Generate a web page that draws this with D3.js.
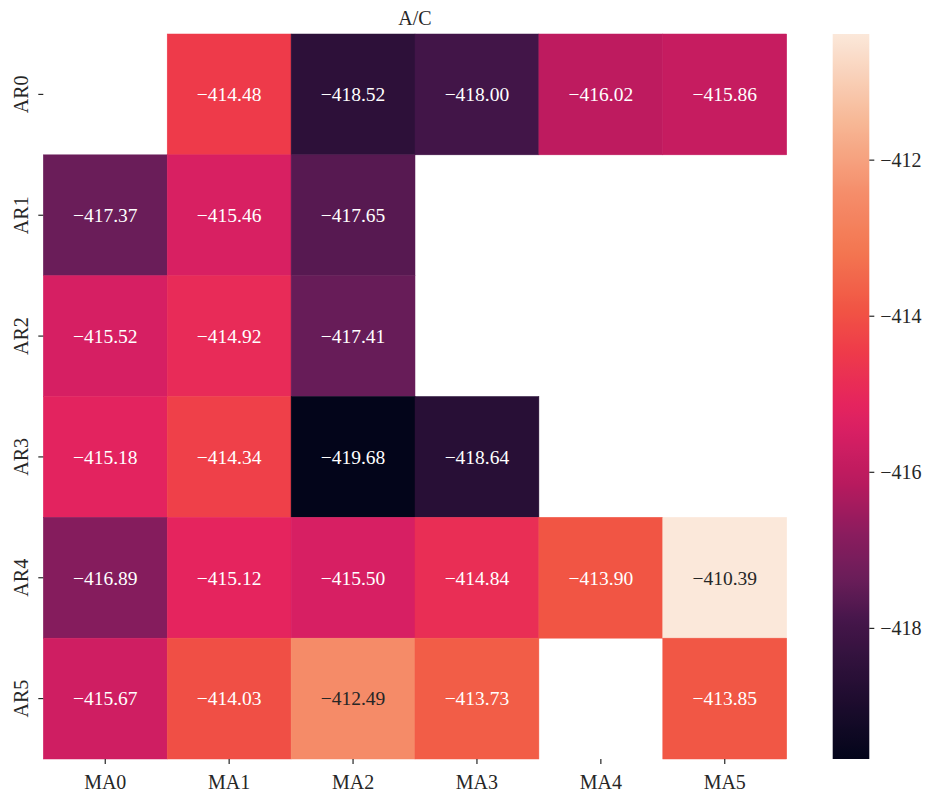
<!DOCTYPE html>
<html>
<head>
<meta charset="utf-8">
<script src="https://cdn.jsdelivr.net/npm/d3@7"></script>
<style>
  html, body { margin: 0; padding: 0; background: #fff; }
  svg text { font-family: "Liberation Serif", "DejaVu Serif", serif; }
</style>
</head>
<body>
<svg id="chart" width="926" height="793"></svg>
<script>
// Row and column labels of the grid
const rowLabels = ["AR0", "AR1", "AR2", "AR3", "AR4", "AR5"];
const colLabels = ["MA0", "MA1", "MA2", "MA3", "MA4", "MA5"];

// A/C score per (AR, MA) order; null = not fitted
const AR0 = [null, -414.48, -418.52, -418.00, -416.02, -415.86];
const AR1 = [-417.37, -415.46, -417.65, null, null, null];
const AR2 = [-415.52, -414.92, -417.41, null, null, null];
const AR3 = [-415.18, -414.34, -419.68, -418.64, null, null];
const AR4 = [-416.89, -415.12, -415.50, -414.84, -413.90, -410.39];
const AR5 = [-415.67, -414.03, -412.49, -413.73, null, -413.85];
const rows = [AR0, AR1, AR2, AR3, AR4, AR5];

const colorbarTicks = [-412, -414, -416, -418];
const title = "A/C";

// "rocket"-style colour ramp: positions and colours
const rampPos = [0, 0.12, 0.19, 0.25, 0.31, 0.38, 0.45, 0.49, 0.56, 0.62, 0.70, 0.78, 0.88, 1];
const rampCol = ["#03051a", "#2b1038", "#45164a", "#6b1d59", "#8a1c5e", "#b81a5e", "#d71f63",
                 "#e5245e", "#ee3a4a", "#f15444", "#f37651", "#f58d6a", "#f7b896", "#fbe8da"];
const rocket = d3.scaleLinear().domain(rampPos).range(rampCol).interpolate(d3.interpolateRgb);

const cells = [];
rows.forEach((r, i) => r.forEach((v, j) => {
  if (v !== null) cells.push({ row: rowLabels[i], col: colLabels[j], value: v });
}));
const vmin = d3.min(cells, d => d.value);
const vmax = d3.max(cells, d => d.value);
const norm = d3.scaleLinear().domain([vmin, vmax]).range([0, 1]);
const color = v => rocket(norm(v));

const svg = d3.select("#chart");
const plotLeft = 43.3, plotRight = 786.7, plotTop = 34, plotBottom = 759;

const x = d3.scaleBand().domain(colLabels).range([plotLeft, plotRight]);
const y = d3.scaleBand().domain(rowLabels).range([plotTop, plotBottom]);

// heatmap cells
svg.append("g").selectAll("rect").data(cells).join("rect")
  .attr("x", d => x(d.col))
  .attr("y", d => y(d.row))
  .attr("width", x.bandwidth())
  .attr("height", y.bandwidth())
  .attr("fill", d => color(d.value))
  .attr("stroke", d => color(d.value))
  .attr("stroke-width", 0.5);

// cell annotations, dark text on light cells
function luminance(c) {
  const rgb = d3.rgb(c);
  const f = v => { v /= 255; return v <= 0.03928 ? v / 12.92 : Math.pow((v + 0.055) / 1.055, 2.4); };
  return 0.2126 * f(rgb.r) + 0.7152 * f(rgb.g) + 0.0722 * f(rgb.b);
}
const fmt = v => d3.format(".2f")(v).replace("-", "\u2212");
svg.append("g").selectAll("text").data(cells).join("text")
  .attr("x", d => x(d.col) + x.bandwidth() / 2)
  .attr("y", d => y(d.row) + y.bandwidth() / 2)
  .attr("dy", "0.35em")
  .attr("text-anchor", "middle")
  .attr("font-size", 19.5)
  .attr("fill", d => luminance(color(d.value)) > 0.3 ? "#262626" : "#ffffff")
  .text(d => fmt(d.value));

// axes
const xAxis = svg.append("g").attr("transform", `translate(0,${plotBottom})`)
  .call(d3.axisBottom(x).tickSize(5).tickPadding(6));
const yAxis = svg.append("g").attr("transform", `translate(${plotLeft},0)`)
  .call(d3.axisLeft(y).tickSize(5).tickPadding(6));
[xAxis, yAxis].forEach(a => {
  a.select(".domain").remove();
  a.selectAll(".tick line").attr("stroke", "#262626").attr("stroke-width", 1.2);
  a.selectAll(".tick text").attr("fill", "#262626").attr("font-size", 20)
    .attr("font-family", "Liberation Serif, DejaVu Serif, serif");
});
xAxis.selectAll(".tick text").attr("dy", "0.95em");
yAxis.selectAll(".tick text")
  .attr("text-anchor", "middle")
  .attr("x", null).attr("dy", null)
  .attr("transform", "translate(-22,0) rotate(-90)")
  .attr("y", 0)
  .attr("dominant-baseline", "central");

// title
svg.append("text")
  .attr("x", (plotLeft + plotRight) / 2)
  .attr("y", 25)
  .attr("text-anchor", "middle")
  .attr("font-size", 20)
  .attr("fill", "#262626")
  .text(title);

// colour bar
const cbX = 832.7, cbW = 36.6;
const cbScale = d3.scaleLinear().domain([vmin, vmax]).range([plotBottom, plotTop]);
const defs = svg.append("defs");
const grad = defs.append("linearGradient").attr("id", "cbgrad")
  .attr("x1", 0).attr("y1", 1).attr("x2", 0).attr("y2", 0);
d3.range(0, 1.0001, 0.01).forEach(t => {
  grad.append("stop").attr("offset", t).attr("stop-color", rocket(t));
});
svg.append("rect")
  .attr("x", cbX).attr("y", plotTop)
  .attr("width", cbW).attr("height", plotBottom - plotTop)
  .attr("fill", "url(#cbgrad)");

const cbAxis = svg.append("g").attr("transform", `translate(${cbX + cbW},0)`)
  .call(d3.axisRight(cbScale).tickValues(colorbarTicks).tickSize(5).tickPadding(6)
    .tickFormat(d => String(d).replace("-", "\u2212")));
cbAxis.select(".domain").remove();
cbAxis.selectAll(".tick line").attr("stroke", "#262626").attr("stroke-width", 1.2);
cbAxis.selectAll(".tick text").attr("fill", "#262626").attr("font-size", 20)
  .attr("font-family", "Liberation Serif, DejaVu Serif, serif");
</script>
</body>
</html>
